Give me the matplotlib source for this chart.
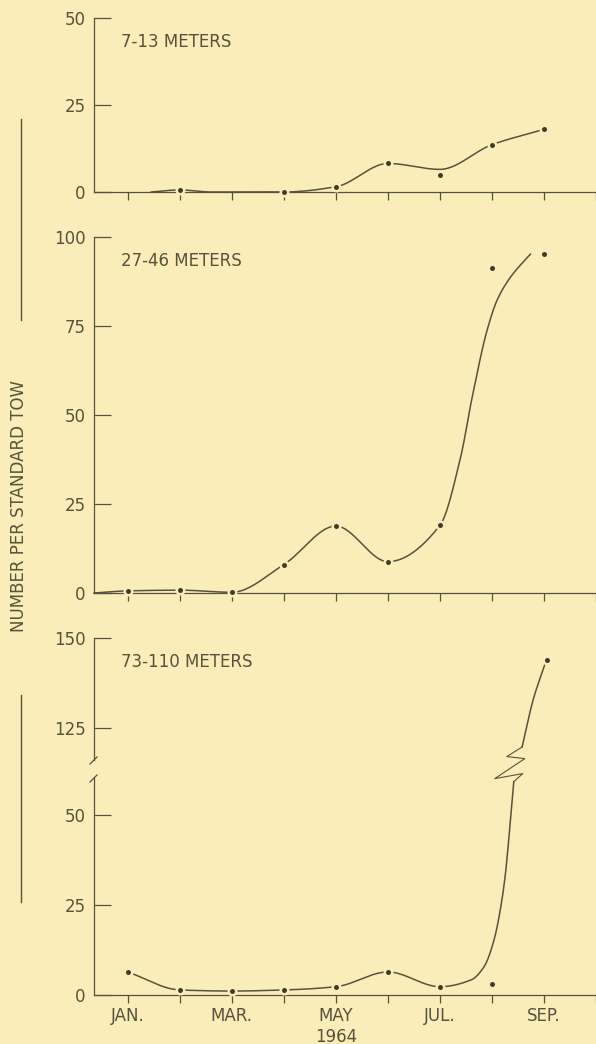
import numpy as np
import matplotlib.pyplot as plt
from matplotlib.lines import Line2D
from matplotlib.transforms import IdentityTransform

# month axis, 0 = January 1964
month_pos = list(range(10))
month_labels = ['JAN.', '', 'MAR.', '', 'MAY', '', 'JUL.', '', 'SEP.', '']

x_shallow = [1, 3, 4, 5, 6, 7, 8]
y_shallow = [0.6, 0.0, 1.5, 8.2, 5.0, 13.6, 18.0]
cx_shallow = [0.45, 1, 1.6, 3, 4, 5, 6, 7, 8]
cy_shallow = [0.0, 0.6, 0.0, 0.0, 1.5, 8.2, 6.5, 13.6, 18.0]

# 27-46 meters
x_mid = [0, 1, 2, 3, 4, 5, 6, 7, 8]
y_mid = [0.6, 0.8, 0.2, 8.0, 18.8, 8.8, 19.0, 91.4, 95.1]
cx_mid = [-0.65, 0, 1, 2, 3, 4, 5, 6, 6.4, 6.62, 6.91, 7.1, 7.36, 7.74]
cy_mid = [0.0, 0.6, 0.8, 0.2, 8.0, 18.8, 8.8, 19.0, 38.3, 55.0, 74.0, 82.3, 88.8, 95.2]

# 73-110 meters (broken axis)
x_deep = [0, 1, 2, 3, 4, 5, 6, 7, 8]
y_deep = [6.4, 1.4, 1.1, 1.4, 2.3, 6.4, 2.3, 3.1, 143.9]
cx_deep_lo = [0, 1, 2, 3, 4, 5, 6, 6.6, 6.85, 7.04, 7.17, 7.26, 7.35, 7.42]
cy_deep_lo = [6.4, 1.4, 1.1, 1.4, 2.3, 6.4, 2.3, 4.2, 7.9, 15.3, 24.5, 33.8, 47.7, 59.3]
cx_deep_hi = [7.52, 7.73, 7.95]
cy_deep_hi = [119.7, 132.8, 142.5]

BG = '#FAEDB9'
INK = '#57523d'
DOT = '#3f3b2b'
FS = 12


def smooth(xk, yk, n=400):
    # monotone cubic through the knots, like a french-curve drawing
    xk = np.asarray(xk, float)
    yk = np.asarray(yk, float)
    h = np.diff(xk)
    d = np.diff(yk) / h
    m = np.zeros_like(xk)
    for i in range(1, len(xk) - 1):
        if d[i - 1] * d[i] > 0:
            w1 = 2 * h[i] + h[i - 1]
            w2 = h[i] + 2 * h[i - 1]
            m[i] = (w1 + w2) / (w1 / d[i - 1] + w2 / d[i])
    m[0] = d[0]
    m[-1] = d[-1]
    xs = np.linspace(xk[0], xk[-1], n)
    idx = np.clip(np.searchsorted(xk, xs) - 1, 0, len(h) - 1)
    t = (xs - xk[idx]) / h[idx]
    h00 = 2 * t**3 - 3 * t**2 + 1
    h10 = t**3 - 2 * t**2 + t
    h01 = -2 * t**3 + 3 * t**2
    h11 = t**3 - t**2
    ys = h00 * yk[idx] + h10 * h[idx] * m[idx] + h01 * yk[idx + 1] + h11 * h[idx] * m[idx + 1]
    return xs, ys


def style(ax, ylim, yticks, bottom=True, labels=False):
    ax.set_facecolor('none')
    ax.set_xlim(-0.65, 8.93)
    ax.set_ylim(*ylim)
    ax.set_yticks(yticks)
    ax.set_yticklabels([str(v) for v in yticks])
    for s in ['top', 'right']:
        ax.spines[s].set_visible(False)
    for s in ['left', 'bottom']:
        ax.spines[s].set_color(INK)
        ax.spines[s].set_linewidth(0.9)
    ax.tick_params(axis='y', direction='in', length=12, width=0.9, color=INK,
                   labelcolor=INK, labelsize=FS, pad=6)
    if bottom:
        ax.set_xticks(month_pos)
        ax.set_xticklabels(month_labels if labels else [''] * len(month_pos))
        ax.tick_params(axis='x', direction='out', length=5.8, width=0.9, color=INK,
                       labelcolor=INK, labelsize=FS, pad=3)
    else:
        ax.spines['bottom'].set_visible(False)
        ax.set_xticks([])


def draw(ax, cx, cy, px=None, py=None):
    xs, ys = smooth(cx, cy)
    ax.plot(xs, ys, color=INK, lw=1.1, zorder=2, clip_on=False)
    if px is not None:
        ax.plot(px, py, 'o', ms=5.4, mfc=DOT, mec=BG, mew=1.8, zorder=3, clip_on=False)


fig = plt.figure(figsize=(5.96, 10.44), dpi=100, facecolor=BG)
W, H = 596.0, 1044.0
left = 94 / W
width = (W - 94) / W

ax1 = fig.add_axes([left, (H - 192) / H, width, 174 / H])
ax2 = fig.add_axes([left, (H - 593) / H, width, 356 / H])
ax3t = fig.add_axes([left, (H - 760) / H, width, 122 / H])
ax3b = fig.add_axes([left, (H - 995) / H, width, 217 / H])

style(ax1, (0, 50), [0, 25, 50])
style(ax2, (0, 100), [0, 25, 50, 75, 100])
style(ax3t, (116.1, 150), [125, 150], bottom=False)
style(ax3b, (0, 60.3), [0, 25, 50], labels=True)

draw(ax1, cx_shallow, cy_shallow, x_shallow, y_shallow)
draw(ax2, cx_mid, cy_mid, x_mid, y_mid)
deep_lo = [i for i, v in enumerate(y_deep) if v < 60]
deep_hi = [i for i, v in enumerate(y_deep) if v > 100]
draw(ax3b, cx_deep_lo, cy_deep_lo, [x_deep[i] for i in deep_lo], [y_deep[i] for i in deep_lo])
draw(ax3t, cx_deep_hi, cy_deep_hi, [x_deep[i] for i in deep_hi], [y_deep[i] for i in deep_hi])

# panel titles
for ax, name in [(ax1, '7-13 METERS'), (ax2, '27-46 METERS'), (ax3t, '73-110 METERS')]:
    ax.annotate(name, xy=(0, 1), xycoords='axes fraction', xytext=(27, -24),
                textcoords='offset pixels', ha='left', va='center', fontsize=FS, color=INK)

ax3b.annotate('1964', xy=(4, 0), xycoords=('data', 'axes fraction'), xytext=(0, -42),
              textcoords='offset pixels', ha='center', va='center', fontsize=FS, color=INK)

# zigzag break in the curve
lo = ax3b.transData.transform((cx_deep_lo[-1], cy_deep_lo[-1]))
hi = ax3t.transData.transform((cx_deep_hi[0], cy_deep_hi[0]))
zx = [lo[0], lo[0] + 9, lo[0] - 19, lo[0] + 11, lo[0] - 7, hi[0]]
zy = [lo[1], lo[1] + 8, lo[1] + 3, lo[1] + 23, lo[1] + 25, hi[1]]
fig.add_artist(Line2D(zx, zy, color=INK, lw=0.8, transform=IdentityTransform()))

# break marks on the y axis
for ax, yf in [(ax3t, 0.0), (ax3b, 1.0)]:
    p = ax.transAxes.transform((0, yf))
    fig.add_artist(Line2D([p[0] - 4, p[0] + 3], [p[1] - 4, p[1] + 3], color=INK, lw=0.9,
                          transform=IdentityTransform()))

# y label with rules above and below
fig.text(19 / W, 1 - 506 / H, 'NUMBER PER STANDARD TOW', rotation=90, ha='center',
         va='center', fontsize=FS, color=INK)
fig.add_artist(Line2D([21 / W, 21 / W], [1 - 119 / H, 1 - 320 / H], color=INK, lw=1.0))
fig.add_artist(Line2D([21 / W, 21 / W], [1 - 695 / H, 1 - 902 / H], color=INK, lw=1.0))

fig.savefig('out.png', dpi=100, facecolor=BG)
